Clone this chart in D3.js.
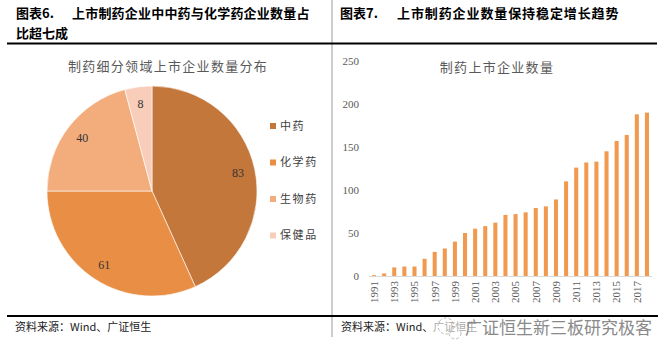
<!DOCTYPE html>
<html>
<head>
<meta charset="utf-8">
<script src="https://cdn.jsdelivr.net/npm/d3@7"></script>
<style>
  body { margin: 0; background: #fff; }
  text { font-family: "Liberation Serif", "Noto Sans CJK SC", serif; }
  .cjk { font-family: "Noto Sans CJK SC", sans-serif; }
</style>
</head>
<body>
<div id="chart"></div>
<script>
// pie data
var pieCats = ["中药", "化学药", "生物药", "保健品"];
var pieVals = [83, 61, 40, 8];
var pieColors = ["#C4773A", "#E98F45", "#F3AD7C", "#F8CDBA"];

// bar data
var years = ["1991","1992","1993","1994","1995","1996","1997","1998","1999","2000",
             "2001","2002","2003","2004","2005","2006","2007","2008","2009","2010",
             "2011","2012","2013","2014","2015","2016","2017","2018"];
var counts = [1, 3, 10, 11, 11, 20, 28, 32, 40, 50,
              55, 58, 62, 71, 72, 74, 79, 81, 89, 110,
              126, 132, 133, 145, 157, 164, 188, 190];
var yTicks = [0, 50, 100, 150, 200, 250];

var W = 664, H = 362;

var svg = d3.select("#chart").append("svg")
    .attr("width", W)
    .attr("height", H);

svg.append("rect").attr("width", W).attr("height", H).attr("fill", "#fff");

// ---- frame / headers ----
svg.append("line")
    .attr("x1", 332).attr("x2", 332).attr("y1", 0).attr("y2", 337)
    .attr("stroke", "#9a9a9a").attr("stroke-width", 1);

svg.append("line")
    .attr("x1", 7).attr("x2", 657).attr("y1", 43.5).attr("y2", 43.5)
    .attr("stroke", "#000").attr("stroke-width", 2);

svg.append("line")
    .attr("x1", 7).attr("x2", 658).attr("y1", 316).attr("y2", 316)
    .attr("stroke", "#000").attr("stroke-width", 2);

svg.append("text").attr("class", "cjk")
    .attr("x", 16).attr("y", 18).attr("font-size", 13).attr("font-weight", "bold")
    .text("图表6.");
svg.append("text").attr("class", "cjk")
    .attr("x", 72).attr("y", 18).attr("font-size", 13).attr("font-weight", "bold")
    .attr("letter-spacing", 0.2)
    .text("上市制药企业中中药与化学药企业数量占");
svg.append("text").attr("class", "cjk")
    .attr("x", 16).attr("y", 38).attr("font-size", 13).attr("font-weight", "bold")
    .text("比超七成");

svg.append("text").attr("class", "cjk")
    .attr("x", 340).attr("y", 18).attr("font-size", 13).attr("font-weight", "bold")
    .text("图表7.");
svg.append("text").attr("class", "cjk")
    .attr("x", 397).attr("y", 18).attr("font-size", 13).attr("font-weight", "bold")
    .attr("letter-spacing", 0.9)
    .text("上市制药企业数量保持稳定增长趋势");

// sources
svg.append("text").attr("class", "cjk")
    .attr("x", 15).attr("y", 331).attr("font-size", 11).attr("fill", "#222")
    .text("资料来源：Wind、广证恒生");
svg.append("text").attr("class", "cjk")
    .attr("x", 341).attr("y", 331).attr("font-size", 11).attr("fill", "#222")
    .text("资料来源：Wind、广证恒生");

// watermark over the right source line
var wm = svg.append("g");
wm.append("rect").attr("x", 434).attr("y", 318).attr("width", 226).attr("height", 22)
    .attr("fill", "#fff").attr("opacity", 0.6);
wm.append("circle").attr("cx", 446).attr("cy", 326).attr("r", 8)
    .attr("fill", "none").attr("stroke", "#bbb").attr("stroke-dasharray", "3,2");
wm.append("circle").attr("cx", 455).attr("cy", 333).attr("r", 6)
    .attr("fill", "none").attr("stroke", "#bbb").attr("stroke-dasharray", "3,2");
wm.append("text").attr("class", "cjk")
    .attr("x", 465).attr("y", 334).attr("font-size", 17).attr("fill", "#8a8a8a")
    .text("广证恒生新三板研究极客");

// ---- pie ----
var cx = 152, cy = 191, r = 105;

svg.append("text").attr("class", "cjk")
    .attr("x", 168).attr("y", 71)
    .attr("text-anchor", "middle")
    .attr("font-size", 13).attr("letter-spacing", 1.3)
    .attr("fill", "#595959")
    .text("制药细分领域上市企业数量分布");

var pie = d3.pie().sort(null).value(function(d) { return d; });
var arc = d3.arc().innerRadius(0).outerRadius(r);
var labelArc = d3.arc().innerRadius(88).outerRadius(88);

var pg = svg.append("g").attr("transform", "translate(" + cx + "," + cy + ")");

var slices = pie(pieVals);

pg.selectAll(".slice")
  .data(slices)
  .enter().append("path")
    .attr("class", "slice")
    .attr("d", arc)
    .attr("fill", function(d, i) { return pieColors[i]; })
    .attr("stroke", "#fff")
    .attr("stroke-width", 0.6);

pg.selectAll(".plabel")
  .data(slices)
  .enter().append("text")
    .attr("class", "plabel")
    .attr("transform", function(d) { return "translate(" + labelArc.centroid(d) + ")"; })
    .attr("text-anchor", "middle")
    .attr("dy", "0.35em")
    .attr("font-size", 12)
    .attr("fill", "#333")
    .text(function(d) { return d.data; });

var legend = svg.selectAll(".legend")
  .data(pieCats)
  .enter().append("g")
    .attr("class", "legend")
    .attr("transform", function(d, i) { return "translate(270," + (126 + i * 36.5) + ")"; });

legend.append("rect")
    .attr("x", 0).attr("y", -3).attr("width", 6).attr("height", 6)
    .attr("fill", function(d, i) { return pieColors[i]; });

legend.append("text").attr("class", "cjk")
    .attr("x", 10).attr("dy", "0.36em")
    .attr("font-size", 11).attr("letter-spacing", 1.6)
    .attr("fill", "#404040")
    .text(function(d) { return d; });

// ---- bars ----
var x = d3.scaleBand()
    .domain(years)
    .range([369, 652])
    .paddingInner(0.6)
    .paddingOuter(0.3);

var y = d3.scaleLinear()
    .domain([0, 250])
    .range([276, 61]);

svg.append("text").attr("class", "cjk")
    .attr("x", 497).attr("y", 72)
    .attr("text-anchor", "middle")
    .attr("font-size", 13).attr("letter-spacing", 1.3)
    .attr("fill", "#595959")
    .text("制药上市企业数量");

svg.selectAll(".ytick")
  .data(yTicks)
  .enter().append("text")
    .attr("class", "ytick")
    .attr("x", 359)
    .attr("y", function(d) { return y(d); })
    .attr("dy", "0.35em")
    .attr("text-anchor", "end")
    .attr("font-size", 11)
    .attr("fill", "#595959")
    .text(function(d) { return d; });

svg.selectAll(".bar")
  .data(counts)
  .enter().append("rect")
    .attr("class", "bar")
    .attr("x", function(d, i) { return x(years[i]); })
    .attr("width", x.bandwidth())
    .attr("y", function(d) { return y(d); })
    .attr("height", function(d) { return y(0) - y(d); })
    .attr("fill", "#F0994F");

svg.append("line")
    .attr("x1", 369).attr("x2", 652)
    .attr("y1", y(0) + 0.5).attr("y2", y(0) + 0.5)
    .attr("stroke", "#d9d9d9");

svg.selectAll(".xlabel")
  .data(years.filter(function(d, i) { return i % 2 == 0; }))
  .enter().append("text")
    .attr("class", "xlabel")
    .attr("transform", function(d) {
      return "translate(" + (x(d) + x.bandwidth() / 2) + ",281) rotate(-90)";
    })
    .attr("text-anchor", "end")
    .attr("dy", "0.35em")
    .attr("font-size", 11)
    .attr("fill", "#595959")
    .text(function(d) { return d; });
</script>
</body>
</html>
